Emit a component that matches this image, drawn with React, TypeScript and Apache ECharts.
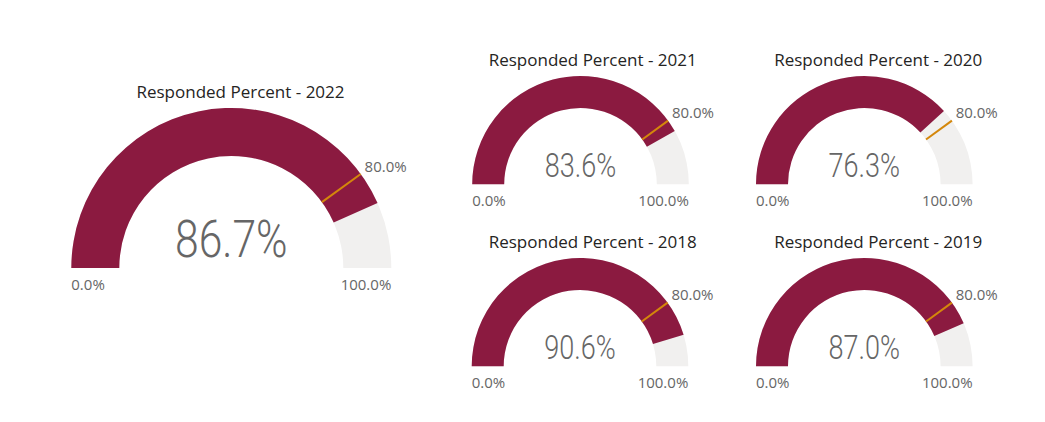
import React, { useEffect, useRef } from "react";
import * as echarts from "echarts";

// ---- data ----
const chartTitles = [
  "Responded Percent - 2022",
  "Responded Percent - 2021",
  "Responded Percent - 2020",
  "Responded Percent - 2018",
  "Responded Percent - 2019",
];
const respondedPercent = [86.7, 83.6, 76.3, 90.6, 87.0];
const targetPercent = 80;
const scaleMin = 0;
const scaleMax = 100;

// ---- layout (positions / sizes only) ----
const layouts = [
  { cx: 231.3, cy: 268, r: 160, w: 48, valueSize: 51.6, valueDy: -28, tx: 240.5, ty: 82.5, tgtDist: -104.8, tgtLH: 51 },
  { cx: 580.5, cy: 184.3, r: 108.3, w: 32, valueSize: 32.8, valueDy: -19, tx: 592.7, ty: 51, tgtDist: -88.7, tgtLH: 49 },
  { cx: 864.3, cy: 184.3, r: 108.3, w: 32, valueSize: 32.8, valueDy: -19, tx: 878.2, ty: 51, tgtDist: -88.7, tgtLH: 49 },
  { cx: 580, cy: 366.3, r: 108.3, w: 32, valueSize: 32.8, valueDy: -19, tx: 592.7, ty: 233, tgtDist: -88.7, tgtLH: 49 },
  { cx: 864.3, cy: 366.3, r: 108.3, w: 32, valueSize: 32.8, valueDy: -19, tx: 878.2, ty: 233, tgtDist: -88.7, tgtLH: 49 },
];

const MAROON = "#8B1A40";
const TRACK = "#F1F0EF";
const TARGET = "#D4870B";
const LABEL = "#666666";
const LABEL_FONT = "'Open Sans', 'Noto Sans', sans-serif";
const VALUE_FONT = "Roboto, 'Open Sans', sans-serif";

const fmt = (v: number) => Number(v).toFixed(1) + "%";

function buildOption() {
  const series: any[] = [];
  const graphic: any[] = [];
  respondedPercent.forEach((val, i) => {
    const L = layouts[i];
    const common = {
      type: "gauge",
      center: [L.cx, L.cy],
      radius: L.r,
      startAngle: 180,
      pointer: { show: false },
      anchor: { show: false },
      axisTick: { show: false },
      title: { show: false },
    };
    // main arc
    series.push({
      ...common,
      z: 2,
      endAngle: 0,
      min: scaleMin,
      max: scaleMax,
      axisLine: { show: true, lineStyle: { width: L.w, color: [[1, TRACK]] } },
      progress: { show: true, width: L.w, roundCap: false, itemStyle: { color: MAROON } },
      splitLine: { show: false },
      axisLabel: { show: false },
      detail: { show: false },
      data: [{ value: val }],
    });
    // min / max labels
    series.push({
      ...common,
      z: 3,
      endAngle: 0,
      min: scaleMin,
      max: scaleMax,
      splitNumber: 1,
      axisLine: { show: false, lineStyle: { width: 0 } },
      splitLine: { show: false, length: 0, distance: 0 },
      axisLabel: {
        show: true,
        distance: 0,
        lineHeight: 31,
        formatter: (v: number) => "\n" + fmt(v),
        color: LABEL,
        fontSize: 15,
        fontFamily: LABEL_FONT,
      },
      detail: { show: false },
      data: [],
    });
    // target marker
    series.push({
      ...common,
      z: 5,
      endAngle: 180 - (180 * (targetPercent - scaleMin)) / (scaleMax - scaleMin),
      min: scaleMin,
      max: targetPercent,
      splitNumber: 1,
      axisLine: {
        show: false,
        lineStyle: { width: 0, color: [[0.5, "rgba(0,0,0,0)"], [1, TARGET]] },
      },
      splitLine: { show: true, length: L.w, distance: 0, lineStyle: { color: "auto", width: 2 } },
      axisLabel: {
        show: true,
        distance: L.tgtDist,
        lineHeight: L.tgtLH,
        formatter: (v: number) => (v === targetPercent ? "\n" + fmt(v) : ""),
        color: LABEL,
        fontSize: 15,
        fontFamily: LABEL_FONT,
      },
      detail: { show: false },
      data: [],
    });
    // big value callout (condensed look)
    graphic.push({
      type: "text",
      x: L.cx,
      y: L.cy + L.valueDy,
      scaleX: 0.825,
      z: 10,
      style: {
        text: fmt(val),
        align: "center",
        verticalAlign: "middle",
        fontSize: L.valueSize,
        fontFamily: VALUE_FONT,
        fontWeight: 300,
        fill: LABEL,
      },
    });
  });

  const title = chartTitles.map((t, i) => ({
    text: t,
    left: layouts[i].tx,
    top: layouts[i].ty,
    textAlign: "center",
    padding: 0,
    textStyle: {
      fontSize: 17,
      fontWeight: "normal",
      color: "#252423",
      fontFamily: LABEL_FONT,
    },
  }));

  return { animation: false, backgroundColor: "#ffffff", title, series, graphic };
}

export default function App() {
  const ref = useRef<HTMLDivElement>(null);
  useEffect(() => {
    if (!ref.current) return;
    const chart = echarts.init(ref.current, undefined, { renderer: "svg" });
    chart.setOption(buildOption() as any);
    return () => chart.dispose();
  }, []);
  return (
    <div
      ref={ref}
      style={{ position: "absolute", left: 0, top: 0, width: 1045, height: 422 }}
    />
  );
}
